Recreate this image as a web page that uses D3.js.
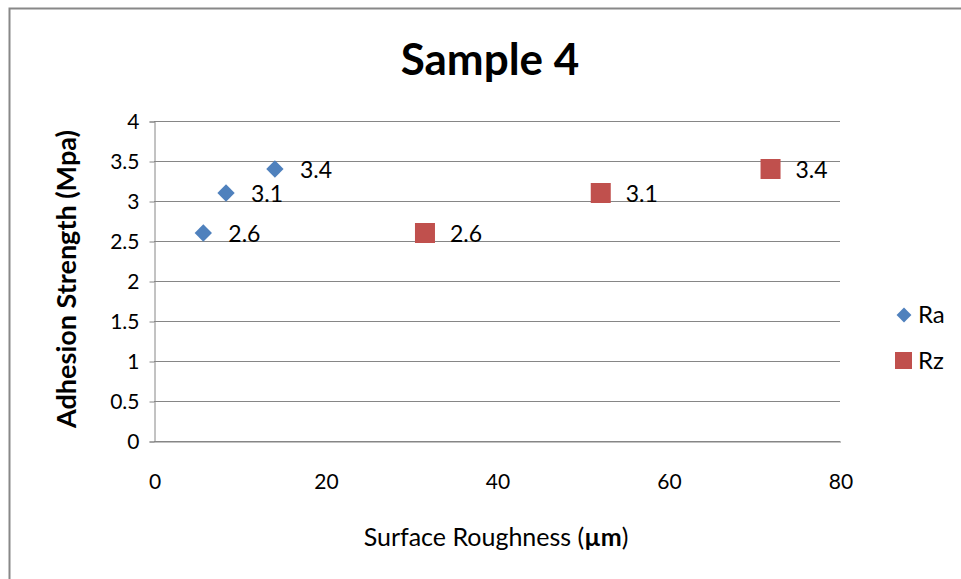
<!DOCTYPE html>
<html>
<head>
<meta charset="utf-8">
<script src="https://cdn.jsdelivr.net/npm/d3@7"></script>
<style>
  html, body { margin: 0; padding: 0; background: #fff; }
  svg { display: block; }
  text { font-family: Lato, "Open Sans", sans-serif; fill: #000; }
</style>
</head>
<body>
<script>
// ---- data ----
const seriesNames = ["Ra", "Rz"];
const raX = [5.75, 8.4, 14.1];
const raY = [2.6, 3.1, 3.4];
const rzX = [31.6, 52.1, 71.9];
const rzY = [2.6, 3.1, 3.4];
const xTicks = [0, 20, 40, 60, 80];
const yTicks = [0, 0.5, 1, 1.5, 2, 2.5, 3, 3.5, 4];
const titleText = "Sample 4";
const xTitle = "Surface Roughness (";
const xTitleUnit = "µm";
const yTitle = "Adhesion Strength (Mpa)";

const W = 961, H = 579;
const plot = { left: 154, right: 840, top: 121, bottom: 441 };
const colors = { Ra: "#4F81BD", Rz: "#C0504D" };
const gridColor = "#868686";

const svg = d3.select("body").append("svg").attr("width", W).attr("height", H);

// chart border
svg.append("rect").attr("x", 9.5).attr("y", 8.5).attr("width", W + 10).attr("height", H + 10)
  .attr("fill", "#fff").attr("stroke", "#888").attr("stroke-width", 2);

const x = d3.scaleLinear().domain([0, 80]).range([plot.left, plot.right]);
const y = d3.scaleLinear().domain([0, 4]).range([plot.bottom, plot.top]);

// gridlines
svg.append("g").selectAll("line").data(yTicks).join("line")
  .attr("x1", plot.left).attr("x2", plot.right)
  .attr("y1", d => Math.round(y(d)) + 0.5).attr("y2", d => Math.round(y(d)) + 0.5)
  .attr("stroke", gridColor).attr("stroke-width", 1);

// y axis
const yAxis = svg.append("g").attr("transform", `translate(${plot.left + 0.5},0.5)`)
  .call(d3.axisLeft(y).tickValues(yTicks).tickSize(5).tickPadding(10).tickFormat(d3.format("~g")));
yAxis.select(".domain").attr("stroke", gridColor);
yAxis.selectAll(".tick line").attr("stroke", gridColor);
yAxis.selectAll(".tick text").style("font-size", "21px").style("font-family", "Lato, sans-serif").attr("fill", "#000");

// x axis
const xAxis = svg.append("g").attr("transform", `translate(0.5,${plot.bottom + 0.5})`)
  .call(d3.axisBottom(x).tickValues(xTicks).tickSize(0).tickPadding(33).tickFormat(d3.format("~g")));
xAxis.select(".domain").attr("stroke", gridColor);
xAxis.selectAll(".tick text").style("font-size", "21px").style("font-family", "Lato, sans-serif").attr("fill", "#000");

// title
svg.append("text").attr("x", 490).attr("y", 75).attr("text-anchor", "middle")
  .style("font-size", "44px").style("font-weight", "bold").text(titleText);

// x title
const xt = svg.append("text").attr("x", 496).attr("y", 546).attr("text-anchor", "middle")
  .style("font-size", "25px");
xt.append("tspan").text(xTitle);
xt.append("tspan").style("font-weight", "bold").text(xTitleUnit);
xt.append("tspan").text(")");

// y title
svg.append("text").attr("transform", "translate(76,279) rotate(-90)").attr("text-anchor", "middle")
  .style("font-size", "27px").style("font-weight", "bold").text(yTitle);

// markers
const raData = raX.map((v, i) => ({ x: v, y: raY[i] }));
const rzData = rzX.map((v, i) => ({ x: v, y: rzY[i] }));

svg.append("g").selectAll("path").data(raData).join("path")
  .attr("d", d3.symbol().type(d3.symbolSquare).size(150))
  .attr("transform", d => `translate(${x(d.x)},${y(d.y)}) rotate(45)`)
  .attr("fill", colors.Ra);

const sq = 20;
svg.append("g").selectAll("rect").data(rzData).join("rect")
  .attr("x", d => x(d.x) - sq / 2).attr("y", d => y(d.y) - sq / 2)
  .attr("width", sq).attr("height", sq).attr("fill", colors.Rz);

// data labels
const fmt = d3.format(".1f");
svg.append("g").selectAll("text").data(raData.concat(rzData)).join("text")
  .attr("x", d => x(d.x) + 25).attr("y", d => y(d.y) + 9)
  .style("font-size", "23px").text(d => fmt(d.y));

// legend
const lg = svg.append("g");
lg.append("path").attr("d", d3.symbol().type(d3.symbolSquare).size(110))
  .attr("transform", "translate(904,315) rotate(45)").attr("fill", colors.Ra);
lg.append("text").attr("x", 918).attr("y", 323).style("font-size", "24px").text(seriesNames[0]);
lg.append("rect").attr("x", 895).attr("y", 352).attr("width", 17).attr("height", 17).attr("fill", colors.Rz);
lg.append("text").attr("x", 918).attr("y", 369).style("font-size", "24px").text(seriesNames[1]);
</script>
</body>
</html>
